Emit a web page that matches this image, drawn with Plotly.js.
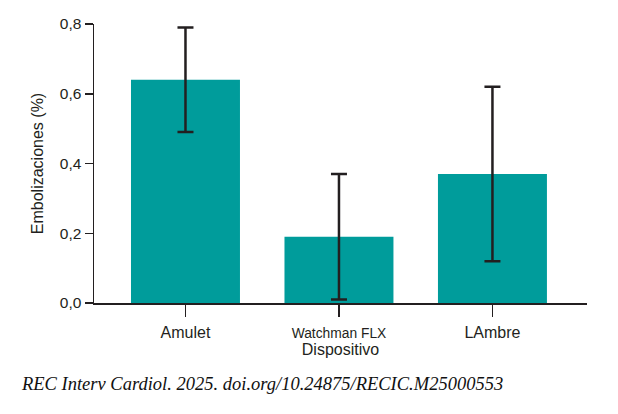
<!DOCTYPE html>
<html>
<head>
<meta charset="utf-8">
<script src="https://cdn.plot.ly/plotly-3.0.1.min.js"></script>
<style>html,body{margin:0;padding:0;background:#fff;}#chart{width:618px;height:414px;}</style>
</head>
<body>
<div id="chart"></div>
<script>
var categories = ["Amulet", "Watchman FLX", "LAmbre"];
var categoryLabels = ["Amulet", "<span style=\"font-size:13.8px\">Watchman FLX</span>", "LAmbre"];
var values = [0.64, 0.19, 0.37];
var lower = [0.49, 0.01, 0.12];
var upper = [0.79, 0.37, 0.62];
var yTickVals = [0, 0.2, 0.4, 0.6, 0.8];
var yTickText = ["0,0", "0,2", "0,4", "0,6", "0,8"];

var ink = "#231F20";
var plus = values.map(function(v, i){ return upper[i] - v; });
var minus = values.map(function(v, i){ return v - lower[i]; });

var trace = {
  type: "bar",
  x: categories,
  y: values,
  marker: {color: "#009C9B"},
  error_y: {type: "data", symmetric: false, array: plus, arrayminus: minus,
            color: ink, thickness: 2.5, width: 8},
  hoverinfo: "skip"
};

var layout = {
  width: 618, height: 414,
  margin: {l: 94, r: 31, t: 24, b: 111},
  paper_bgcolor: "#fff", plot_bgcolor: "#fff",
  bargap: 0.29,
  showlegend: false,
  font: {family: "Liberation Sans, Arial, sans-serif", color: ink},
  xaxis: {
    type: "category",
    range: [-0.596, 2.616],
    tickvals: categories, ticktext: categoryLabels,
    showline: true, linecolor: ink, linewidth: 1.5,
    ticks: "outside", ticklen: 12, tickwidth: 1.5, tickcolor: ink,
    ticklabelstandoff: 2,
    tickfont: {size: 16, color: ink},
    showgrid: false, zeroline: false,
    title: {text: "Dispositivo", font: {size: 16, color: ink}, standoff: 4}
  },
  yaxis: {
    range: [0, 0.8],
    tickvals: yTickVals, ticktext: yTickText,
    showline: true, linecolor: ink, linewidth: 1.5,
    ticks: "outside", ticklen: 8, tickwidth: 1.5, tickcolor: ink,
    tickfont: {size: 15.5, color: ink},
    showgrid: false, zeroline: false,
    title: {text: "Embolizaciones (%)", font: {size: 16, color: ink}, standoff: 12}
  },
  annotations: [{
    xref: "paper", yref: "paper", x: 0.34, y: -0.29,
    xanchor: "center", yanchor: "middle", showarrow: false,
    text: "REC Interv Cardiol. 2025. doi.org/10.24875/RECIC.M25000553",
    font: {family: "Liberation Serif, serif", size: 18.5, color: "#111", style: "italic"}
  }]
};

Plotly.newPlot("chart", [trace], layout, {displayModeBar: false, staticPlot: true});
</script>
</body>
</html>
